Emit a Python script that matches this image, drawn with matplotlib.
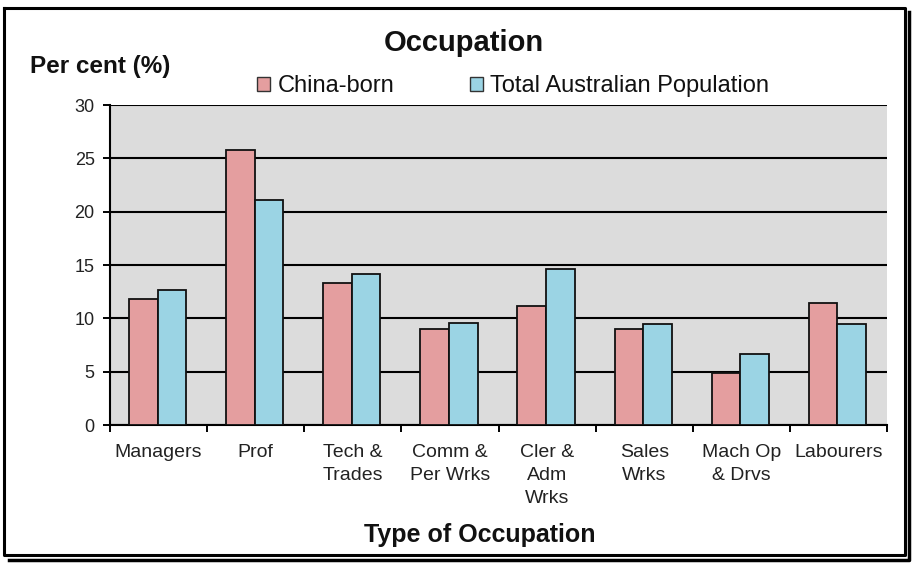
import matplotlib
matplotlib.use("Agg")
import matplotlib.pyplot as plt
import numpy as np
from matplotlib.lines import Line2D
from matplotlib.patches import Rectangle

categories = ["Managers", "Prof", "Tech &\nTrades", "Comm &\nPer Wrks",
              "Cler &\nAdm\nWrks", "Sales\nWrks", "Mach Op\n& Drvs", "Labourers"]
china_born = [11.8, 25.8, 13.3, 9.0, 11.2, 9.0, 4.9, 11.4]
total_aus = [12.7, 21.1, 14.2, 9.6, 14.6, 9.5, 6.7, 9.5]
series_names = ["China-born", "Total Australian Population"]
yticks = [0, 5, 10, 15, 20, 25, 30]

plt.rcParams['font.family'] = ['Liberation Sans', 'DejaVu Sans']

fig = plt.figure(figsize=(9.13, 5.63), dpi=100)
fig.patch.set_facecolor("white")
ax = fig.add_axes([110/913, 1-425/563, 777/913, 320/563])
ax.set_facecolor("#dcdcdc")

pink = "#e49e9f"
blue = "#9bd4e4"
x = np.arange(len(categories))
w = 0.295
ax.bar(x - w/2 - 0.01, china_born, width=w, color=pink, edgecolor="#111111", linewidth=1.3, zorder=3)
ax.bar(x + w/2 - 0.01, total_aus, width=w, color=blue, edgecolor="#111111", linewidth=1.3, zorder=3)

ax.set_xlim(-0.5, len(categories) - 0.5)
ax.set_ylim(0, 30)
ax.set_yticks(yticks)
ax.set_yticklabels([str(v) for v in yticks], fontsize=13, color="#222222")
ax.yaxis.grid(True, color="black", linewidth=1.5, zorder=1)
ax.set_axisbelow(True)

ax.set_xticks(x)
ax.set_xticklabels(categories, fontsize=14, color="#222222", linespacing=1.45)
ax.set_xticks(np.arange(len(categories) + 1) - 0.5, minor=True)
ax.tick_params(axis="x", which="major", length=0, pad=14)
ax.tick_params(axis="x", which="minor", length=5, width=1.4, direction="out")
ax.tick_params(axis="y", length=5, width=1.4, direction="out", pad=6)

for s in ["top", "right"]:
    ax.spines[s].set_visible(False)
for s in ["left", "bottom"]:
    ax.spines[s].set_linewidth(1.5)
    ax.spines[s].set_color("black")

fig.text(464/913, 1-43/563, "Occupation", ha="center", va="center",
         fontsize=21, fontweight="bold", color="#111111")
fig.text(30/913, 1-67/563, "Per cent (%)", ha="left", va="center",
         fontsize=17.5, fontweight="bold", color="#111111")
fig.text(480/913, 1-535/563, "Type of Occupation", ha="center", va="center",
         fontsize=18, fontweight="bold", color="#111111")

handles = [Rectangle((0, 0), 1, 1, facecolor=pink, edgecolor="#333333", linewidth=1),
           Rectangle((0, 0), 1, 1, facecolor=blue, edgecolor="#333333", linewidth=1)]
fig.legend(handles, series_names, loc="center", bbox_to_anchor=(513/913, 1-86/563),
           ncol=2, frameon=False, fontsize=17, handlelength=0.55, handleheight=0.55,
           handletextpad=0.3, columnspacing=3.2, labelcolor="#111111",
           borderpad=0, borderaxespad=0)

# figure frame with shadow
fig.add_artist(Line2D([4/913, 4/913, 905/913, 905/913, 4/913],
                      [1-8/563, 1-555/563, 1-555/563, 1-8/563, 1-8/563],
                      transform=fig.transFigure, color="black", linewidth=2.2))
fig.add_artist(Line2D([9/913, 909/913, 909/913],
                      [1-559.5/563, 1-559.5/563, 1-12/563],
                      transform=fig.transFigure, color="black", linewidth=2.5))

fig.savefig("out.png", dpi=100)
